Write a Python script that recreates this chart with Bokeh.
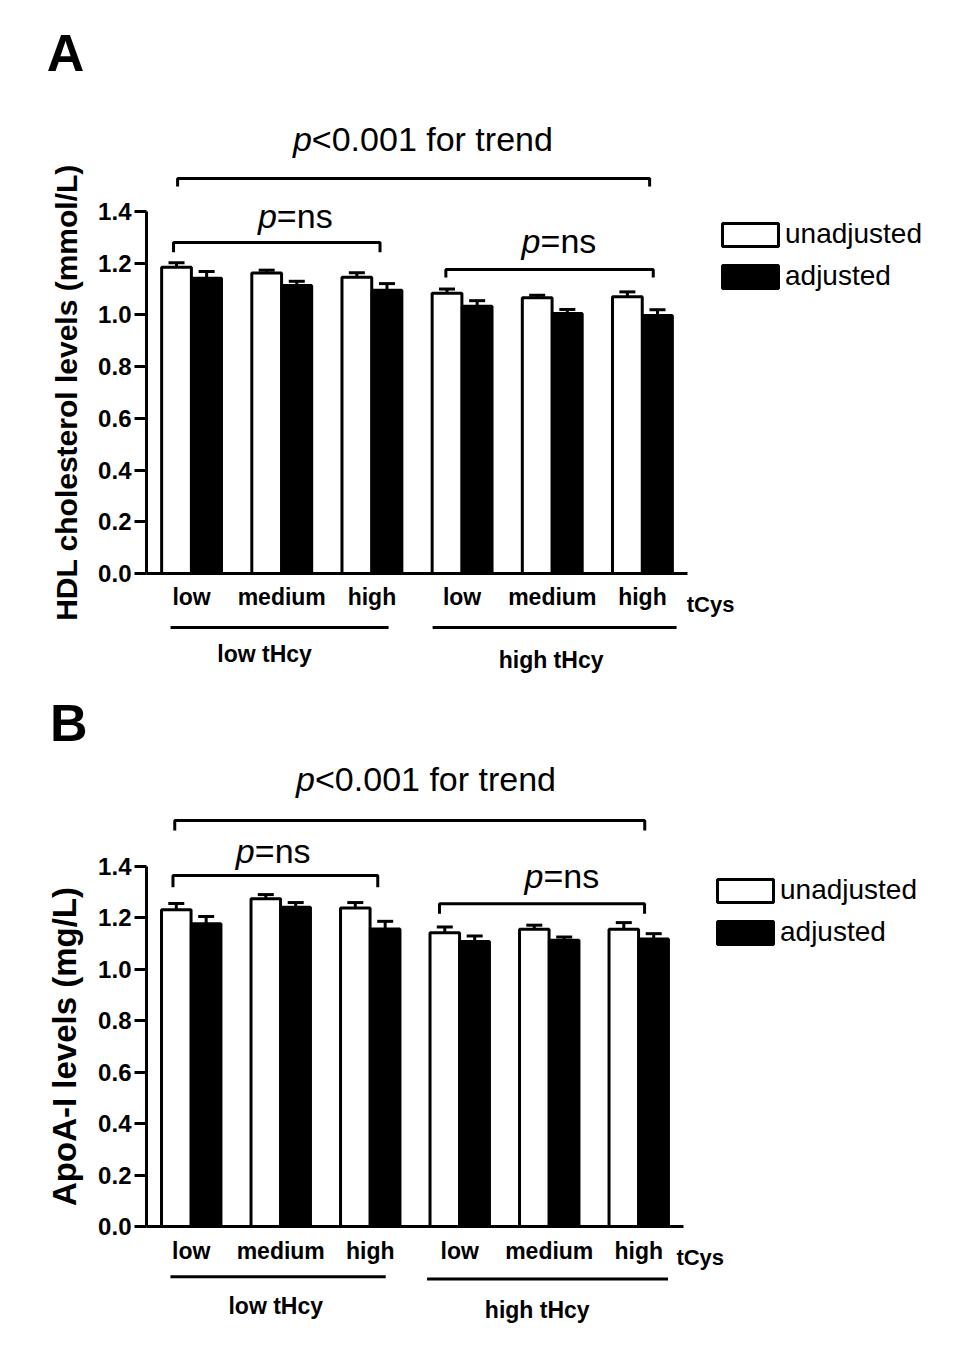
from bokeh.plotting import figure
from bokeh.models import (Range1d, FixedTicker, PrintfTickFormatter, ColumnDataSource,
                          Whisker, TeeHead, Legend, LegendItem)
from bokeh.layouts import column
from bokeh.core.properties import value
from bokeh.embed import file_html
from bokeh.resources import INLINE

FONT = "Liberation Sans"

# ---------------- data ----------------
tcys_levels = ["low", "medium", "high", "low", "medium", "high"]
thcy_groups = ["low tHcy", "high tHcy"]
series_names = ["unadjusted", "adjusted"]
y_ticks = [0.0, 0.2, 0.4, 0.6, 0.8, 1.0, 1.2, 1.4]
trend_text = "<0.001 for trend"
ns_text = "=ns"

hdl_unadjusted = [1.184, 1.162, 1.146, 1.084, 1.066, 1.070]
hdl_unadjusted_err = [0.018, 0.011, 0.017, 0.016, 0.010, 0.019]
hdl_adjusted = [1.142, 1.114, 1.095, 1.033, 1.005, 0.998]
hdl_adjusted_err = [0.026, 0.016, 0.026, 0.022, 0.016, 0.022]

apoa_unadjusted = [1.232, 1.275, 1.239, 1.143, 1.156, 1.156]
apoa_unadjusted_err = [0.024, 0.016, 0.021, 0.022, 0.016, 0.026]
apoa_adjusted = [1.178, 1.242, 1.157, 1.109, 1.113, 1.118]
apoa_adjusted_err = [0.028, 0.018, 0.030, 0.021, 0.013, 0.021]

# ---------------- layout config ----------------
panels = [
    dict(letter="A", ylabel="HDL cholesterol levels (mmol/L)", height=680, ylabel_size="30px",
         xr=(-2.119, 8.472), yr=(-0.4138, 2.2158),
         unadj=hdl_unadjusted, unadj_err=hdl_unadjusted_err,
         adj=hdl_adjusted, adj_err=hdl_adjusted_err,
         letter_pos=(-1.397, 2.011),
         trend=dict(px=1.334, ty=1.682, x0=-0.155, x1=5.08, y=1.527, tip=1.497),
         ns=[dict(px=0.946, ty=1.384, x0=-0.2, x1=2.09, y=1.28, tip=1.242),
             dict(px=3.870, ty=1.284, x0=2.82, x1=5.12, y=1.176, tip=1.145)],
         tcys_pos=(5.756, -0.12),
         glines=[(-0.233, 2.185, -0.209), (2.673, 5.379, -0.209)],
         glabels=[(0.81, -0.313), (3.987, -0.336)],
         legend_loc=(715, 388)),
    dict(letter="B", ylabel="ApoA-I levels (mg/L)", height=680, ylabel_size="33px",
         xr=(-2.131, 8.539), yr=(-0.5212, 2.1237),
         unadj=apoa_unadjusted, unadj_err=apoa_unadjusted_err,
         adj=apoa_adjusted, adj_err=apoa_adjusted_err,
         letter_pos=(-1.369, 1.960),
         trend=dict(px=1.383, ty=1.739, x0=-0.184, x1=5.067, y=1.579, tip=1.540),
         ns=[dict(px=0.71, ty=1.462, x0=-0.204, x1=2.084, y=1.365, tip=1.320),
             dict(px=3.936, ty=1.365, x0=2.774, x1=5.065, y=1.255, tip=1.216)],
         tcys_pos=(5.687, -0.119),
         glines=[(-0.232, 2.173, -0.195), (2.635, 5.327, -0.204)],
         glabels=[(0.944, -0.311), (3.866, -0.323)],
         legend_loc=(710, 412)),
]

BAR_W = 0.33
OFF = 0.167


def make_panel(cfg):
    p = figure(width=955, height=cfg["height"],
               x_range=Range1d(*cfg["xr"]), y_range=Range1d(*cfg["yr"]),
               output_backend="svg", toolbar_location=None, min_border=0)
    p.outline_line_color = None
    p.grid.visible = False
    p.background_fill_color = "white"
    p.border_fill_color = "white"

    idx = list(range(len(tcys_levels)))
    xs_u = [i - OFF for i in idx]
    xs_a = [i + OFF for i in idx]

    ru = p.vbar(x=xs_u, top=cfg["unadj"], bottom=0, width=BAR_W,
                fill_color="white", line_color="black", line_width=3)
    ra = p.vbar(x=xs_a, top=cfg["adj"], bottom=0, width=BAR_W,
                fill_color="black", line_color="black", line_width=3)

    for xs, tops, errs in ((xs_u, cfg["unadj"], cfg["unadj_err"]),
                           (xs_a, cfg["adj"], cfg["adj_err"])):
        s = ColumnDataSource(dict(x=xs, lo=tops, hi=[t + e for t, e in zip(tops, errs)]))
        w = Whisker(source=s, base="x", lower="lo", upper="hi", dimension="height",
                    line_width=3, line_color="black", level="overlay",
                    upper_head=TeeHead(size=16, line_width=3, line_color="black"),
                    lower_head=None)
        p.add_layout(w)

    # axes
    xa = p.xaxis[0]
    xa.fixed_location = 0
    xa.bounds = (-0.5, 5.5)
    xa.ticker = FixedTicker(ticks=idx)
    xa.major_label_overrides = {i: lab for i, lab in enumerate(tcys_levels)}
    xa.major_tick_out = 0
    xa.major_tick_in = 0
    xa.minor_tick_out = 0
    xa.minor_tick_in = 0
    xa.axis_line_width = 3
    xa.major_label_text_font = FONT
    xa.major_label_text_font_style = "bold"
    xa.major_label_text_font_size = "23px"
    xa.major_label_text_color = "black"
    xa.major_label_standoff = 11

    ya = p.yaxis[0]
    ya.fixed_location = -0.5
    ya.bounds = (0, 1.4)
    ya.ticker = FixedTicker(ticks=y_ticks)
    ya.formatter = PrintfTickFormatter(format="%.1f")
    ya.major_tick_out = 12
    ya.major_tick_in = 0
    ya.major_tick_line_width = 3
    ya.minor_tick_out = 0
    ya.minor_tick_in = 0
    ya.axis_line_width = 3
    ya.major_label_text_font = FONT
    ya.major_label_text_font_style = "bold"
    ya.major_label_text_font_size = "24px"
    ya.major_label_text_color = "black"
    ya.major_label_standoff = 3
    ya.axis_label = cfg["ylabel"]
    ya.axis_label_text_font = FONT
    ya.axis_label_text_font_style = "bold"
    ya.axis_label_text_font_size = cfg["ylabel_size"]
    ya.axis_label_text_color = "black"
    ya.axis_label_standoff = 12

    # panel letter
    lx, ly = cfg["letter_pos"]
    p.text(x=[lx], y=[ly], text=[cfg["letter"]], text_font=value(FONT),
           text_font_style="bold", text_font_size="52px",
           text_align="center", text_baseline="middle", text_color="black")

    # p-value annotations
    ann = [(cfg["trend"], trend_text)] + [(n, ns_text) for n in cfg["ns"]]
    for a, rest in ann:
        p.text(x=[a["px"]], y=[a["ty"]], text=["p"], text_font=value(FONT),
               text_font_style="italic", text_font_size="34px",
               text_align="right", text_baseline="middle", text_color="black")
        p.text(x=[a["px"]], y=[a["ty"]], text=[rest], text_font=value(FONT),
               text_font_size="34px", text_align="left", text_baseline="middle",
               text_color="black")
        p.multi_line(xs=[[a["x0"], a["x0"], a["x1"], a["x1"]]],
                     ys=[[a["tip"], a["y"], a["y"], a["tip"]]],
                     line_width=3, line_color="black")

    # tCys label
    tx, ty = cfg["tcys_pos"]
    p.text(x=[tx], y=[ty], text=["tCys"], text_font=value(FONT), text_font_style="bold",
           text_font_size="22px", text_align="center", text_baseline="middle",
           text_color="black")

    # group lines and labels
    p.segment(x0=[g[0] for g in cfg["glines"]], x1=[g[1] for g in cfg["glines"]],
              y0=[g[2] for g in cfg["glines"]], y1=[g[2] for g in cfg["glines"]],
              line_width=3, line_color="black")
    p.text(x=[g[0] for g in cfg["glabels"]], y=[g[1] for g in cfg["glabels"]],
           text=thcy_groups, text_font=value(FONT), text_font_style="bold",
           text_font_size="23px", text_align="center", text_baseline="middle",
           text_color="black")

    legend = Legend(items=[LegendItem(label=value(series_names[0]), renderers=[ru]),
                           LegendItem(label=value(series_names[1]), renderers=[ra])],
                    location=cfg["legend_loc"], glyph_width=70, glyph_height=29,
                    label_standoff=0, spacing=10, padding=0, margin=0,
                    border_line_color=None, background_fill_alpha=0,
                    label_text_font=FONT, label_text_font_size="28px",
                    label_text_color="black")
    p.add_layout(legend)
    return p


figs = [make_panel(c) for c in panels]
layout = column(*figs)
open("out.html", "w").write(file_html(layout, INLINE))
